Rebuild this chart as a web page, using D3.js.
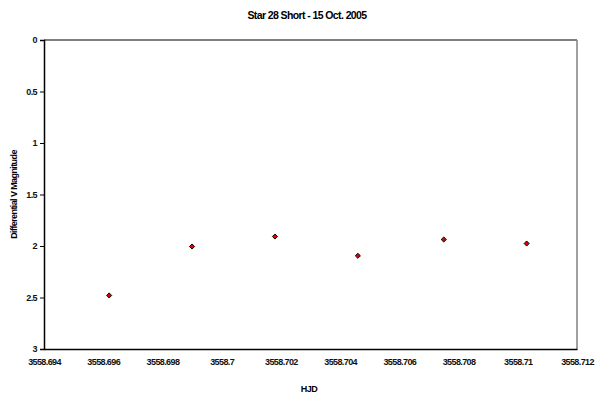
<!DOCTYPE html>
<html>
<head>
<meta charset="utf-8">
<script src="https://cdn.jsdelivr.net/npm/d3@7"></script>
<style>
  body { margin: 0; background: #fff; }
  text { font-family: "Liberation Sans", Arial, sans-serif; }
</style>
</head>
<body>
<svg id="chart" width="598" height="397"></svg>
<script>
const hjd = [3558.6962, 3558.6990, 3558.7018, 3558.7046, 3558.7075, 3558.7103];
const mag = [2.48, 2.005, 1.908, 2.095, 1.937, 1.976];
const xTicks = [3558.694, 3558.696, 3558.698, 3558.7, 3558.702, 3558.704, 3558.706, 3558.708, 3558.71, 3558.712];
const yTicks = [0, 0.5, 1, 1.5, 2, 2.5, 3];

const margin = { top: 40, right: 21, bottom: 48, left: 44 };
const W = 598, H = 397;
const w = W - margin.left - margin.right;
const h = H - margin.top - margin.bottom;

const svg = d3.select("#chart");
const g = svg.append("g").attr("transform", `translate(${margin.left},${margin.top})`);

const x = d3.scaleLinear().domain([3558.694, 3558.712]).range([0, w]);
const y = d3.scaleLinear().domain([0, 3]).range([0, h]);

// plot area frame: top black, right grey
g.append("line").attr("x1", 0).attr("x2", w).attr("y1", 0).attr("y2", 0)
  .attr("stroke", "#000").attr("stroke-width", 1.2);
g.append("line").attr("x1", w).attr("x2", w).attr("y1", 0).attr("y2", h)
  .attr("stroke", "#808080").attr("stroke-width", 1.5);

// x axis
const xAxis = g.append("g").attr("transform", `translate(0,${h})`)
  .call(d3.axisBottom(x).tickValues(xTicks).tickSize(0).tickPadding(10)
    .tickFormat(d => d3.format(".3~f")(d)));
xAxis.select(".domain").attr("stroke", "#000").attr("stroke-width", 1.5);
xAxis.selectAll("text").attr("font-size", 9).attr("letter-spacing", "-0.6px")
  .attr("font-weight", "bold").attr("fill", "#111");

// y axis
const yAxis = g.append("g")
  .call(d3.axisLeft(y).tickValues(yTicks).tickSize(4).tickPadding(3).tickFormat(d3.format("~g")));
yAxis.select(".domain").attr("stroke", "#000").attr("stroke-width", 1.5);
yAxis.selectAll("line").attr("stroke", "#000");
yAxis.selectAll("text").attr("font-size", 9).attr("letter-spacing", "-0.6px")
  .attr("font-weight", "bold").attr("fill", "#111");

// points: small square diamonds
const pts = hjd.map((d, i) => ({ x: d, y: mag[i] }));
g.selectAll("path.pt").data(pts).join("path")
  .attr("class", "pt")
  .attr("d", d3.symbol(d3.symbolSquare, 13))
  .attr("transform", d => `translate(${x(d.x)},${y(d.y)}) rotate(45)`)
  .attr("fill", "#e00000").attr("stroke", "#000").attr("stroke-width", 0.9);

// titles
svg.append("text").attr("x", 307).attr("y", 19).attr("text-anchor", "middle")
  .attr("font-size", 10.5).attr("font-weight", "bold").attr("letter-spacing", "-0.6px")
  .text("Star 28 Short - 15 Oct. 2005");

svg.append("text").attr("x", 309).attr("y", 392).attr("text-anchor", "middle")
  .attr("font-size", 9).attr("font-weight", "bold").attr("letter-spacing", "-0.5px")
  .text("HJD");

svg.append("text")
  .attr("transform", `translate(17,${margin.top + h / 2}) rotate(-90)`)
  .attr("text-anchor", "middle")
  .attr("font-size", 9).attr("font-weight", "bold").attr("letter-spacing", "-0.6px")
  .text("Differential V Magnitude");
</script>
</body>
</html>
